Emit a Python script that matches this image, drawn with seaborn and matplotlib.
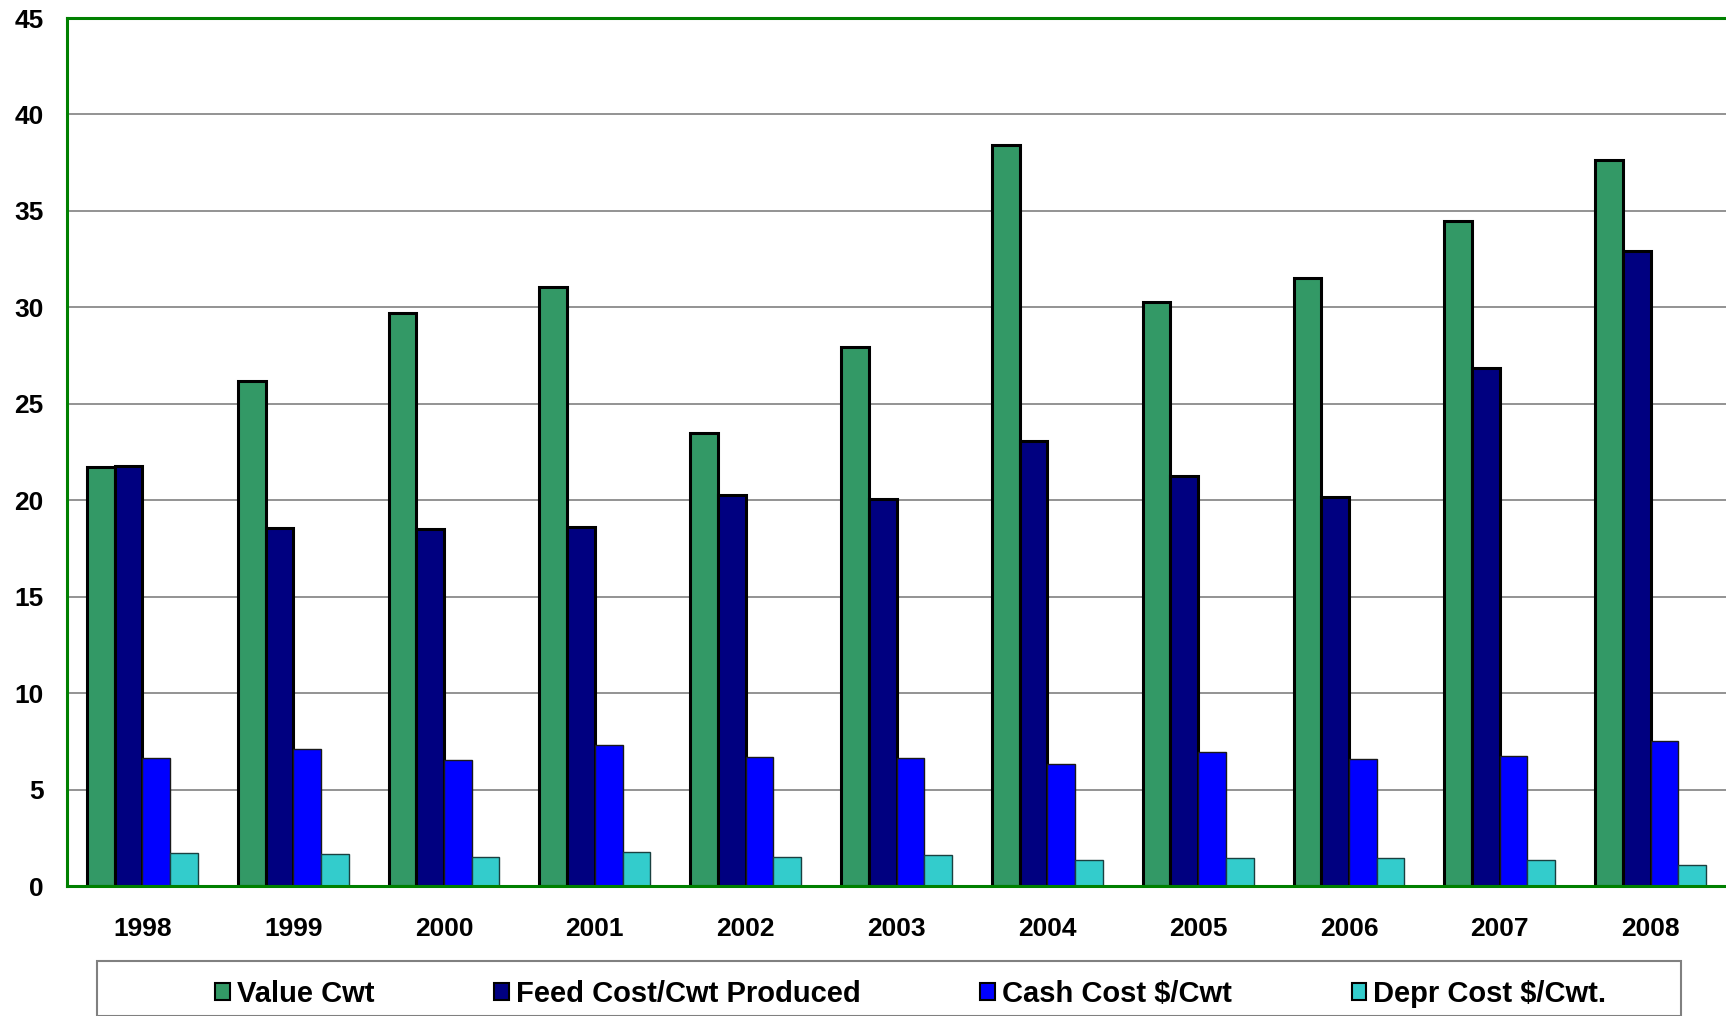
import matplotlib
matplotlib.use("Agg")
import matplotlib.pyplot as plt
from matplotlib.patches import Rectangle, Patch
import seaborn as sns
import pandas as pd
import numpy as np

years = ["1998", "1999", "2000", "2001", "2002", "2003", "2004", "2005", "2006", "2007", "2008"]
value_cwt = [21.70, 26.16, 29.70, 31.07, 23.47, 27.93, 38.44, 30.27, 31.52, 34.49, 37.64]
feed_cost = [21.76, 18.56, 18.50, 18.62, 20.27, 20.05, 23.07, 21.24, 20.16, 26.84, 32.90]
cash_cost = [6.62, 7.08, 6.51, 7.31, 6.68, 6.62, 6.34, 6.97, 6.57, 6.74, 7.54]
depr_cost = [1.71, 1.66, 1.48, 1.77, 1.48, 1.60, 1.37, 1.43, 1.43, 1.37, 1.09]
series_names = ["Value Cwt", "Feed Cost/Cwt Produced", "Cash Cost $/Cwt", "Depr Cost $/Cwt."]
colors = ["#339966", "#000080", "#0000FF", "#33CCCC"]

df = pd.DataFrame({"year": years, series_names[0]: value_cwt, series_names[1]: feed_cost,
                   series_names[2]: cash_cost, series_names[3]: depr_cost})
long = df.melt(id_vars="year", var_name="series", value_name="value")

sns.set_style("white")
plt.rcParams["font.family"] = ["Liberation Sans", "DejaVu Sans"]

fig = plt.figure(figsize=(17.26, 10.16), dpi=100)
ax = fig.add_axes([67 / 1726, 1 - 886 / 1016, 1 - 67 / 1726, (886 - 18) / 1016])

sns.barplot(data=long, x="year", y="value", hue="series", hue_order=series_names,
            palette=colors, width=0.735, saturation=1, ax=ax, legend=False)

for i, cont in enumerate(ax.containers):
    for p in cont:
        if i < 2:
            p.set_edgecolor("black")
            p.set_linewidth(2.2)
        else:
            p.set_edgecolor("#1a1a1a" if i == 2 else "#1a4040")
            p.set_linewidth(1.0)

ax.set_xlim(-0.5, 10.5)
ax.set_ylim(0, 45)
ax.set_yticks(np.arange(0, 46, 5))
ax.set_xlabel("")
ax.set_ylabel("")
ax.yaxis.grid(True, color="#808080", linewidth=1.2)
ax.set_axisbelow(True)

ax.set_xticks(np.arange(-0.5, 10.6, 1.0), minor=True)
ax.tick_params(axis="x", which="major", length=0, pad=22, labelsize=19, labelcolor="black")
ax.tick_params(axis="x", which="minor", length=6, width=1.2, color="#808080", direction="out")
ax.tick_params(axis="y", which="major", length=6, width=1.2, color="#808080", direction="out",
               pad=11, labelsize=19, labelcolor="black")
for lab in ax.get_xticklabels() + ax.get_yticklabels():
    lab.set_fontweight("bold")

for s in ["top", "bottom", "left"]:
    ax.spines[s].set_color("#008000")
    ax.spines[s].set_linewidth(2.2)
ax.spines["right"].set_visible(False)

# legend frame
fig.add_artist(Rectangle((97 / 1726, 0), (1681 - 97) / 1726, 1 - 961 / 1016,
                         transform=fig.transFigure, facecolor="white",
                         edgecolor="#808080", linewidth=1.5, clip_on=False))
handles = [Patch(facecolor=c, edgecolor="black", linewidth=1.5) for c in colors]
leg = fig.legend(handles, series_names, loc="center left",
                 bbox_to_anchor=(215 / 1726, 1 - 994 / 1016), ncol=4, frameon=False,
                 prop={"weight": "bold", "size": 21}, handlelength=0.5, handleheight=0.5,
                 handletextpad=0.25, columnspacing=4.1, borderaxespad=0, borderpad=0)
for t in leg.get_texts():
    t.set_color("black")

fig.savefig("out.png", dpi=100)
